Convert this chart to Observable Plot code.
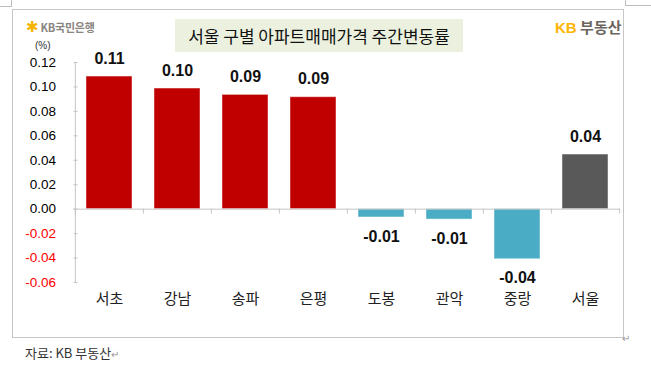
<!DOCTYPE html>
<html><head><meta charset="utf-8">
<script src="https://cdn.jsdelivr.net/npm/d3@7"></script>
<script src="https://cdn.jsdelivr.net/npm/@observablehq/plot@0.6"></script>
<style>
body{margin:0;background:#fff;}
#wrap{position:relative;width:651px;height:368px;overflow:hidden;font-family:"Noto Sans CJK KR","Noto Sans",sans-serif;background:#fff;}
#chart{position:absolute;left:0;top:0;}
.abs{position:absolute;}
.frame{left:12px;top:9px;width:610px;height:327px;border:1px solid #c6c6c6;}
.title{left:175px;top:19px;width:288px;height:33px;background:#EBF1DE;font-size:17px;line-height:33px;text-align:center;color:#111;white-space:nowrap;}
.kbbank{left:26px;top:18px;font-size:11px;font-weight:bold;color:#8a857f;white-space:nowrap;letter-spacing:-0.2px;}
.kbbank .star{color:#F6B300;font-size:15px;font-family:"DejaVu Sans",sans-serif;margin-right:2px;}
.kbland{left:555px;top:16px;font-size:15px;font-weight:bold;color:#6b6560;white-space:nowrap;}
.kbland .kb{color:#FFB400;font-family:"Liberation Sans",Arial,sans-serif;}
.pct{left:35px;top:40px;font-size:10px;color:#333;font-family:"Liberation Sans",Arial,sans-serif;}
.caption{left:25px;top:343px;font-size:13px;color:#333;white-space:nowrap;}
.pm{color:#999;font-size:10px;}
.mark{border-color:#bdbdbd;border-style:solid;border-width:0;}
</style></head><body>
<div id="wrap">
  <div class="abs frame"></div>
  <div class="abs mark" style="left:0;top:0;width:11px;height:6px;border-right-width:1px;border-bottom-width:1px;"></div>
  <div class="abs mark" style="left:625px;top:0;width:30px;height:5px;border-left-width:1px;border-bottom-width:1px;"></div>
  <div id="chart"></div>
  <div class="abs kbbank"><span class="star">✱</span>KB국민은행</div>
  <div class="abs title">서울 구별 아파트매매가격 주간변동률</div>
  <div class="abs kbland"><span class="kb">KB</span> 부동산</div>
  <div class="abs pct">(%)</div>
  <div class="abs pm" style="left:622px;top:330px;">↵</div>
  <div class="abs caption">자료: KB 부동산<span class="pm">↵</span></div>
</div>
<script>
const categories = ["서초", "강남", "송파", "은평", "도봉", "관악", "중랑", "서울"];
const values = [0.1085, 0.0987, 0.0935, 0.0916, -0.0068, -0.0085, -0.0410, 0.0447];
const valueLabels = ["0.11", "0.10", "0.09", "0.09", "-0.01", "-0.01", "-0.04", "0.04"];
const yTicks = [-0.06, -0.04, -0.02, 0.00, 0.02, 0.04, 0.06, 0.08, 0.10, 0.12];
const groups = ["상승", "하락", "서울"];

const table = categories.map((name, i) => ({
  name,
  value: values[i],
  label: valueLabels[i],
  group: name === "서울" ? "서울" : (values[i] >= 0 ? "상승" : "하락")
}));

const W = 651, H = 337, ML = 73.5, MR = 31, MT = 62, MB = 55;
const step = (W - ML - MR) / categories.length;
const axisGray = "#c4c4c4";
const numFont = "'Liberation Sans', Arial, sans-serif";

const chart = Plot.plot({
  width: W, height: H,
  marginLeft: ML, marginRight: MR, marginTop: MT, marginBottom: MB,
  style: {background: "transparent", overflow: "visible"},
  x: {domain: categories, paddingInner: 0.327, paddingOuter: 0.1635, axis: null, label: null},
  y: {domain: [-0.06, 0.12], axis: null, label: null},
  color: {domain: groups, range: ["#C00000", "#4BACC6", "#595959"]},
  marks: [
    Plot.barY(table, {x: "name", y: "value", fill: "group", stroke: "#ffffff", strokeOpacity: 0.45, strokeWidth: 1}),
    Plot.ruleY([0], {stroke: axisGray}),
    Plot.ruleX([categories[0]], {x: d => d, dx: -step / 2, y1: -0.06, y2: 0.12, stroke: axisGray}),
    Plot.ruleX(categories, {x: d => d, dx: -step / 2, y1: 0, y2: -0.004, stroke: axisGray}),
    Plot.ruleX([categories[categories.length - 1]], {x: d => d, dx: step / 2, y1: 0, y2: -0.004, stroke: axisGray}),
    Plot.axisY(yTicks, {tickSize: -4, tickFormat: () => "", stroke: axisGray, label: null}),
    Plot.text(yTicks.filter(d => d >= 0), {y: d => d, frameAnchor: "left", textAnchor: "end", dx: -18, text: d => d.toFixed(2), fill: "#000", fontSize: 13.5, fontFamily: numFont}),
    Plot.text(yTicks.filter(d => d < 0), {y: d => d, frameAnchor: "left", textAnchor: "end", dx: -18, text: d => d.toFixed(2), fill: "#FF0000", fontSize: 13.5, fontFamily: numFont}),
    Plot.text(categories, {x: d => d, frameAnchor: "bottom", dy: 21, text: d => d, fill: "#222", fontSize: 15, fontFamily: "'Noto Sans CJK KR', sans-serif"}),
    Plot.text(table.filter(d => d.value >= 0), {x: "name", y: "value", text: "label", dy: -18, fontSize: 16, fontWeight: "bold", fill: "#111", fontFamily: numFont}),
    Plot.text(table.filter(d => d.value < 0), {x: "name", y: "value", text: "label", dy: 19, fontSize: 16, fontWeight: "bold", fill: "#111", fontFamily: numFont})
  ]
});
document.getElementById("chart").appendChild(chart);
</script>
</body></html>
